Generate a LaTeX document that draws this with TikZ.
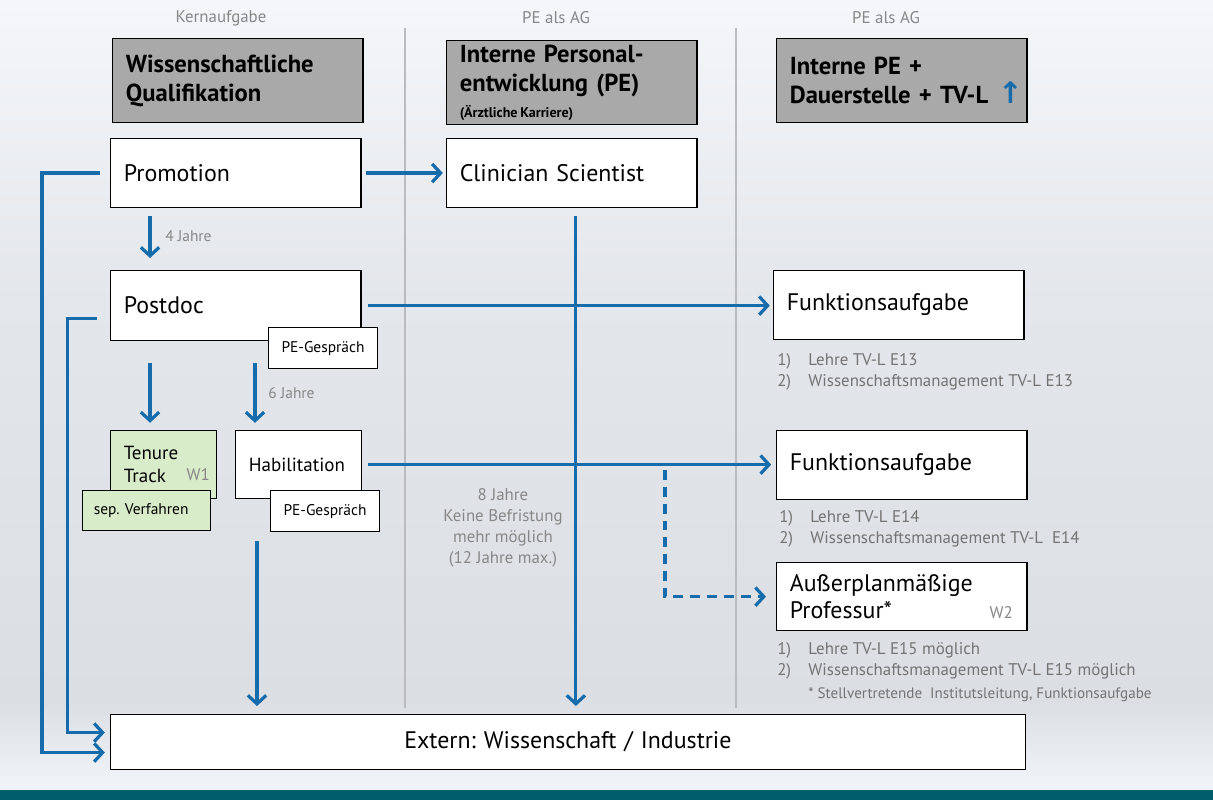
\documentclass[tikz,border=0pt]{standalone}
\usepackage{fontspec}
\setmainfont{PT Sans}
\newfontfamily\symfont{DejaVu Sans}
\usetikzlibrary{arrows.meta}
\frenchspacing
\definecolor{pfeilblau}{RGB}{22,108,170}
\definecolor{kopfgrau}{RGB}{169,169,169}
\definecolor{textgrau}{RGB}{135,135,135}
\definecolor{notizgrau}{RGB}{115,115,115}
\definecolor{tenuregruen}{RGB}{217,236,201}
\definecolor{linie}{RGB}{185,187,190}
\definecolor{bgoben}{RGB}{244,246,250}
\definecolor{bgmitte}{RGB}{227,230,234}
\definecolor{bgtief}{RGB}{219,222,227}
\definecolor{bgunten}{RGB}{241,244,248}
\definecolor{petrol}{RGB}{0,94,106}
\newcommand{\haupt}{\fontsize{17}{19}\selectfont}
\newcommand{\mittel}{\fontsize{13.5}{16.3}\selectfont}
\newcommand{\kopf}{\fontsize{17.5}{20.5}\selectfont\bfseries}
\newcommand{\klein}{\fontsize{11}{13}\selectfont}
\newcommand{\notiz}{\fontsize{12}{14.9}\selectfont}
\newcommand{\fuss}{\fontsize{10.75}{12}\selectfont}
\tikzset{
  kasten/.style={draw, line width=0.9pt, fill=white, anchor=north west, align=left,
    inner xsep=0.33cm, inner ysep=0pt, font=\haupt, minimum height=1.72cm, text width=5.6cm},
  kopfkasten/.style={kasten, fill=kopfgrau, font=\kopf, minimum height=2.1cm},
  pegespraech/.style={kasten, font=\klein, align=center, inner xsep=0.1cm,
    text width=2.52cm, minimum height=1.03cm},
  gruen/.style={fill=tenuregruen},
  pfeil/.style={draw=pfeilblau, line width=2.3pt, -{Straight Barb[length=6pt,width=13pt]}},
  hinweis/.style={anchor=west, inner sep=0pt, align=left, text=notizgrau, font=\notiz},
  beschriftung/.style={text=textgrau, font=\klein, inner sep=0pt},
  trenner/.style={draw=linie, line width=0.9pt},
}
\begin{document}
\begin{tikzpicture}[x=0.025cm,y=-0.025cm]
    \useasboundingbox (0,0) rectangle (1213,800);
    \shade[top color=bgoben, bottom color=bgmitte] (0,0) rectangle (1213,300);
    \shade[top color=bgmitte, bottom color=bgtief] (0,300) rectangle (1213,700);
    \shade[top color=bgtief, bottom color=bgunten] (0,700) rectangle (1213,790);
    \fill[petrol] (0,790) rectangle (1213,800);

    \draw[trenner] (405,28) -- (405,708);
    \draw[trenner] (736,28) -- (736,708);

    \node[beschriftung, font=\notiz] (K1) at (221,18) {Kernaufgabe};
    \node[beschriftung, font=\notiz] (K2) at (556,18) {PE als AG};
    \node[beschriftung, font=\notiz] (K3) at (886,18) {PE als AG};

    \node[kopfkasten] (WQ) at (112,38) {Wissenschaftliche\\Qualifikation};
    \node[kopfkasten] (IP) at (446,40) {Interne Personal-\\entwicklung (PE)\\[-2pt]{\fontsize{10}{10}\selectfont(Ärztliche\hspace{0.2em}Karriere)}};
    \node[kopfkasten] (ID) at (776,38) {Interne PE +\\Dauerstelle + TV-L\rlap{\hspace{7pt}{\symfont\bfseries\fontsize{21}{20}\selectfont\color{pfeilblau}↑}}};

    \node[kasten] (Pr) at (110,138) {Promotion};
    \node[kasten] (CS) at (446,138) {Clinician Scientist};
    \node[kasten, minimum height=1.75cm] (Pd) at (110,270) {Postdoc};
    \node[kasten] (F1) at (773,270) {Funktionsaufgabe};
    \node[pegespraech] (PG1) at (268,327) {PE-Gespräch};

    \node[kasten, gruen, font=\mittel, text width=1.99cm, minimum height=1.7cm] (TT) at (110,430) {Tenure\\Track};
    \node[beschriftung, font=\notiz, anchor=base east] (W1) at (210,481) {W1};
    \node[kasten, gruen, font=\klein, inner xsep=0.28cm, text width=2.64cm, minimum height=1cm] (SV) at (82,490) {sep. Verfahren};
    \node[kasten, font=\mittel, text width=2.49cm, minimum height=1.7cm] (Hab) at (235,430) {Habilitation};
    \node[pegespraech] (PG2) at (270,490) {PE-Gespräch};
    \node[kasten] (F2) at (776,430) {Funktionsaufgabe};
    \node[kasten, minimum height=1.7cm] (apl) at (776,562) {Außerplanmäßige\\Professur*};
    \node[beschriftung, font=\notiz, anchor=base east] (W2) at (1013,619) {W2};
    \node[kasten, align=center, text width=22.2cm, minimum height=1.375cm] (Ex) at (110,714) {Extern: Wissenschaft / Industrie};

    \node[hinweis] (N1) at (777,371.5) {\makebox[0.78cm][l]{1)}Lehre TV-L E13\\\makebox[0.78cm][l]{2)}Wissenschaftsmanagement TV-L E13};
    \node[hinweis] (N2) at (779,528.5) {\makebox[0.78cm][l]{1)}Lehre TV-L E14\\\makebox[0.78cm][l]{2)}Wissenschaftsmanagement TV-L~ E14};
    \node[hinweis] (N3) at (777,660.5) {\makebox[0.78cm][l]{1)}Lehre TV-L E15 möglich\\\makebox[0.78cm][l]{2)}Wissenschaftsmanagement TV-L E15 möglich};
    \node[hinweis, font=\fuss] (N4) at (808,695) {* Stellvertretende~ Institutsleitung, Funktionsaufgabe};

    \node[beschriftung, anchor=west] (J4) at (165,236) {4 Jahre};
    \node[beschriftung, anchor=west] (J6) at (268,393) {6 Jahre};
    \node[beschriftung, font=\notiz, align=center] (J8) at (503,528) {8 Jahre\\Keine Befristung\\mehr möglich\\(12 Jahre max.)};

    \draw[pfeil, shorten <=0.1cm, shorten >=0.08cm] (Pr.east) -- (Pr.east -| CS.west);
    \draw[pfeil, shorten <=0.2cm, shorten >=0.3cm] ([xshift=1cm]Pr.south west) -- ([xshift=1cm]Pd.north west);
    \draw[pfeil, shorten <=0.55cm, shorten >=0.18cm] ([xshift=1cm]Pd.south west) -- ([xshift=1cm]TT.north west);
    \draw[pfeil, shorten <=0.55cm, shorten >=0.18cm] ([xshift=0.5cm]Hab.north west |- Pd.south) -- ([xshift=0.5cm]Hab.north west);
    \draw[pfeil, shorten <=0.15cm, shorten >=0.08cm] (Pd.east) -- (Pd.east -| F1.west);
    \draw[pfeil, shorten <=0.15cm, shorten >=0.12cm] (Hab.east) -- (Hab.east -| F2.west);
    \coordinate (abzw) at (665,464);
    \draw[pfeil, dash pattern=on 7pt off 5pt, shorten <=0.15cm, shorten >=0.25cm] (abzw) |- (apl);
    \draw[pfeil, shorten <=0.2cm, shorten >=0.2cm] ([xshift=0.1cm]CS.south) -- ([xshift=0.1cm]CS.south |- Ex.north);
    \draw[pfeil, shorten <=1.05cm, shorten >=0.2cm] ([xshift=0.55cm]Hab.south west) -- ([xshift=0.55cm]Hab.south west |- Ex.north);
    \draw[pfeil, shorten >=0.13cm] ([xshift=-0.25cm]Pr.west) -- ++(-58,0) |- ([yshift=-0.26cm]Ex.west);
    \draw[pfeil, shorten >=0.13cm] ([xshift=-0.33cm,yshift=-0.33cm]Pd.west) -- ++(-29,0) |- ([yshift=0.24cm]Ex.west);
\end{tikzpicture}
\end{document}
